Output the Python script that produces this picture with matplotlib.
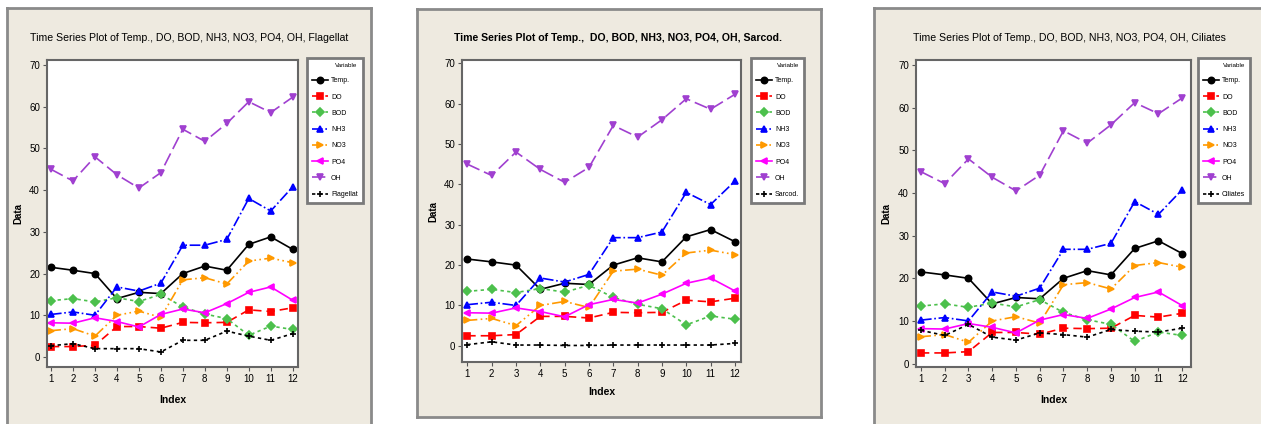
import numpy as np
import matplotlib
matplotlib.use('Agg')
import matplotlib.pyplot as plt

plt.rcParams['font.family'] = ['Liberation Sans', 'DejaVu Sans']

# data
index = np.arange(1, 13)
temp = [21.5, 20.8, 20.0, 14.0, 15.5, 15.2, 20.0, 21.8, 20.8, 27.0, 28.8, 25.8]
do = [2.5, 2.5, 2.8, 7.3, 7.3, 6.9, 8.3, 8.2, 8.3, 11.3, 10.9, 11.8]
bod = [13.5, 14.0, 13.2, 14.2, 13.3, 15.0, 12.0, 10.3, 9.2, 5.2, 7.4, 6.6]
nh3 = [10.2, 10.8, 10.0, 16.8, 15.8, 17.7, 26.8, 26.8, 28.2, 38.0, 35.0, 40.8]
no3 = [6.3, 6.8, 5.0, 10.0, 11.0, 9.5, 18.5, 19.0, 17.5, 23.0, 23.7, 22.6]
po4 = [8.2, 8.1, 9.4, 8.5, 7.2, 10.2, 11.5, 10.6, 12.8, 15.5, 16.8, 13.6]
oh = [45.0, 42.2, 48.0, 43.7, 40.5, 44.2, 54.6, 51.7, 56.0, 61.2, 58.6, 62.3]
flagellat = [2.7, 3.2, 2.0, 2.0, 2.0, 1.2, 4.0, 4.0, 6.2, 5.0, 4.0, 5.6]
sarcod = [0.3, 1.0, 0.2, 0.2, 0.1, 0.1, 0.2, 0.2, 0.2, 0.2, 0.2, 0.6]
ciliates = [7.8, 6.6, 9.2, 6.2, 5.5, 7.2, 6.8, 6.2, 8.0, 7.6, 7.4, 8.3]

common_names = ['Temp.', 'DO', 'BOD', 'NH3', 'NO3', 'PO4', 'OH']
common_vals = [temp, do, bod, nh3, no3, po4, oh]
styles = [
    dict(color='black', ls='-', marker='o'),
    dict(color='red', ls=(0, (5, 3)), marker='s'),
    dict(color='#4CC04C', ls=(0, (2, 2)), marker='D'),
    dict(color='blue', ls='-.', marker='^'),
    dict(color='#FF9900', ls=(0, (6, 2, 1, 2, 1, 2)), marker='>'),
    dict(color='#FF00FF', ls='-', marker='<'),
    dict(color='#A040D0', ls=(0, (8, 3)), marker='v'),
    dict(color='black', ls=(0, (2, 2)), marker='+'),
]

W, H = 1261, 424
fig = plt.figure(figsize=(W / 100, H / 100), dpi=100)
fig.patch.set_facecolor('white')

def fx(px):
    return px / W

def fy(py):
    return 1 - py / H

def box(l, t, r, b):
    return [fx(l), fy(b), (r - l) / W, (b - t) / H]

# panel: frame box, plot box, legend box, limits, title, last series
panels = [
    dict(frame=(7, 8, 371, 440), plot=(47, 60, 298, 367), leg=(307, 58),
         xlim=(0.82, 12.24), ylim=(-2.4, 71.2), title_x=189, bold=False,
         title='Time Series Plot of Temp., DO, BOD, NH3, NO3, PO4, OH, Flagellat',
         extra=('Flagellat', flagellat), ylab_x=18, xlab_y=400),
    dict(frame=(417, 9, 821, 417), plot=(462, 60, 741, 362), leg=(751, 58),
         xlim=(0.78, 12.25), ylim=(-4.0, 70.8), title_x=618, bold=True,
         title='Time Series Plot of Temp.,  DO, BOD, NH3, NO3, PO4, OH, Sarcod.',
         extra=('Sarcod.', sarcod), ylab_x=433, xlab_y=392),
    dict(frame=(874, 8, 1280, 440), plot=(916, 60, 1191, 367), leg=(1198, 58),
         xlim=(0.79, 12.37), ylim=(-0.8, 71.2), title_x=1069, bold=False,
         title='Time Series Plot of Temp., DO, BOD, NH3, NO3, PO4, OH, Ciliates',
         extra=('Ciliates', ciliates), ylab_x=886, xlab_y=400),
]

for p in panels:
    bg = fig.add_axes(box(*p['frame']), zorder=0)
    bg.set_facecolor('#EEEAE0')
    bg.set_xticks([])
    bg.set_yticks([])
    for s in bg.spines.values():
        s.set_color('#8A8A8A')
        s.set_linewidth(2)

    l, t, r, b = p['plot']
    ax = fig.add_axes(box(l, t, r, b), zorder=2)
    ax.set_facecolor('white')
    names = common_names + [p['extra'][0]]
    vals = common_vals + [p['extra'][1]]
    for name, v, st in zip(names, vals, styles):
        ax.plot(index, v, color=st['color'], ls=st['ls'], marker=st['marker'],
                ms=4.5, lw=1.2, mew=1.2, label=name)
    ax.set_xlim(*p['xlim'])
    ax.set_ylim(*p['ylim'])
    ax.set_xticks(index)
    ax.set_yticks(np.arange(0, 71, 10))
    ax.tick_params(labelsize=7, direction='out', length=3, color='#555555', pad=2)
    for s in ax.spines.values():
        s.set_color('#666666')
        s.set_linewidth(1.5)
    fig.text(fx(p['title_x']), fy(38), p['title'], ha='center', va='center',
             fontsize=7.6, fontweight='bold' if p['bold'] else 'normal', zorder=5)
    fig.text(fx(p['ylab_x']), fy((t + b) / 2), 'Data', rotation=90, ha='center',
             va='center', fontsize=7, fontweight='bold', zorder=5)
    fig.text(fx((l + r) / 2), fy(p['xlab_y']), 'Index', ha='center', va='center',
             fontsize=7.5, fontweight='bold', zorder=5)
    lx, ly = p['leg']
    leg = ax.legend(loc='upper left', bbox_to_anchor=(fx(lx), fy(ly)),
                    bbox_transform=fig.transFigure, title='Variable',
                    fontsize=5, title_fontsize=4.5, frameon=True, fancybox=False,
                    handlelength=2.3, labelspacing=1.33, borderpad=0.75,
                    handletextpad=0.4, borderaxespad=0, alignment='right',
                    framealpha=1)
    leg.get_frame().set_edgecolor('#7A7A7A')
    leg.get_frame().set_linewidth(2)

fig.savefig('out.png', dpi=100, facecolor='white')
